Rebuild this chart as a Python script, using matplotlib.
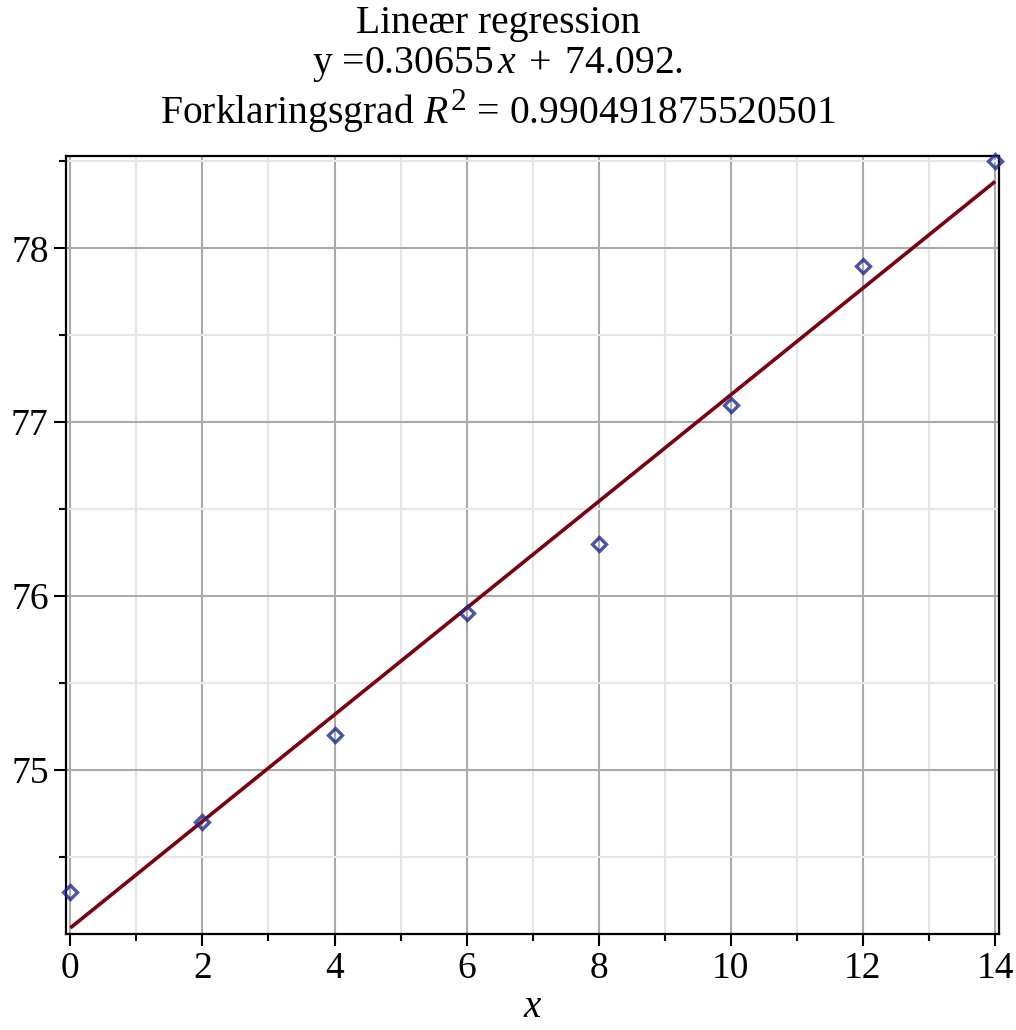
import numpy as np
import matplotlib
matplotlib.use("Agg")
import matplotlib.pyplot as plt
from matplotlib.ticker import MultipleLocator
import matplotlib._mathtext as _mt

plt.rcParams['font.family'] = ['Liberation Serif', 'DejaVu Serif']
plt.rcParams['mathtext.fontset'] = 'custom'
plt.rcParams['mathtext.rm'] = 'Liberation Serif'
plt.rcParams['mathtext.it'] = 'Liberation Serif:italic'
# slightly larger superscripts
_mt.SHRINK_FACTOR = 0.8

# Observations
x_values = [0, 2, 4, 6, 8, 10, 12, 14]
y_values = [74.3, 74.7, 75.2, 75.9, 76.3, 77.1, 77.9, 78.5]

# Fitted line and coefficient of determination
slope = 0.30655
intercept = 74.092
r_squared_text = "0.990491875520501"

x_ticks = [0, 2, 4, 6, 8, 10, 12, 14]
y_ticks = [75, 76, 77, 78]

fig = plt.figure(figsize=(10.16, 10.30), dpi=100)
ax = fig.add_axes([0.065, 0.0932, 0.9183, 0.7556])

ax.set_xlim(-0.065, 14.06)
ax.set_ylim(74.057, 78.532)

ax.xaxis.set_major_locator(MultipleLocator(2))
ax.xaxis.set_minor_locator(MultipleLocator(1))
ax.yaxis.set_major_locator(MultipleLocator(1))
ax.yaxis.set_minor_locator(MultipleLocator(0.5))
ax.set_xticks(x_ticks)
ax.set_yticks(y_ticks)

ax.grid(which='major', color='#aaaaaa', linewidth=1.5, zorder=0)
ax.grid(which='minor', color='#e6e6e6', linewidth=1.5, zorder=0)
ax.set_axisbelow(True)

xs = np.array([0, 14])
ax.plot(xs, slope * xs + intercept, color='#7a0010', linewidth=2.6,
        solid_capstyle='butt', zorder=3, clip_on=False)
ax.plot(x_values, y_values, linestyle='none', marker='D', markersize=7.5,
        markerfacecolor='none', markeredgecolor='#1f2a8c', markeredgewidth=2.4,
        alpha=0.8, zorder=4, clip_on=False)

for s in ax.spines.values():
    s.set_linewidth(1.6)
    s.set_color('black')

ax.tick_params(axis='both', which='major', length=8.5, width=1.5,
               labelsize=27, direction='out', pad=4)
ax.tick_params(axis='both', which='minor', length=5, width=1.5,
               direction='out')
ax.tick_params(top=False, right=False, which='both')

ax.set_xlabel('$x$', fontsize=28, labelpad=2)

title = ("Lineær regression\n"
         "y =0.30655$\\,x\\;+\\;$74.092.\n"
         f"Forklaringsgrad $R^2$ = {r_squared_text}")
fig.text(0.49, 0.995, title, ha='center', va='top', fontsize=28.5,
         linespacing=1.1)

fig.savefig('out.png', dpi=100)
